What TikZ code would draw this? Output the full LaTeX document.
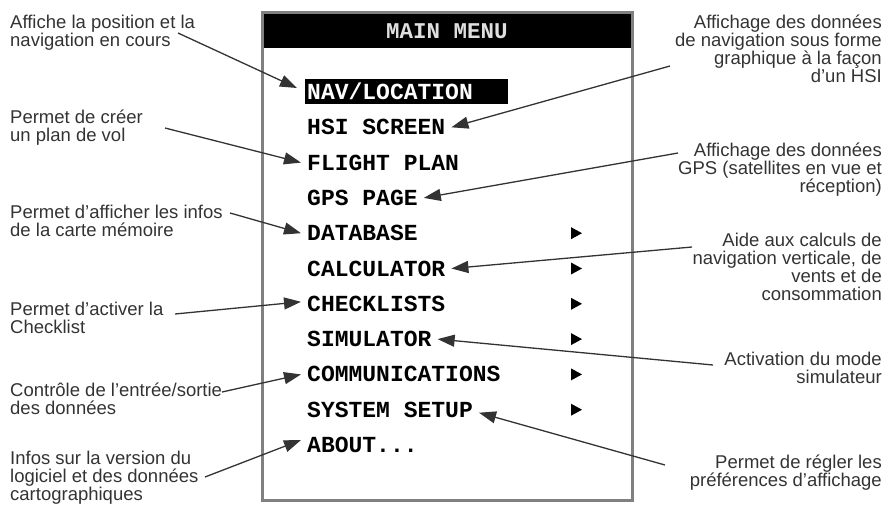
\documentclass[tikz,border=0pt]{standalone}
\usepackage{fontspec}
\setmainfont{Liberation Sans}
\newfontfamily\lcdfont{Liberation Mono}
\usetikzlibrary{arrows.meta}

\definecolor{ink}{HTML}{333333}
\definecolor{framegray}{HTML}{808080}

\tikzset{
  note/.style={inner sep=0pt, text=ink, font=\fontsize{18.5}{17.8}\selectfont},
  leftnote/.style={note, anchor=north west, align=left},
  rightnote/.style={note, anchor=north east, align=right},
  item/.style={anchor=west, inner xsep=6pt, inner ysep=0pt, text height=15pt, text depth=0pt,
    font=\lcdfont\bfseries\fontsize{23}{23}\selectfont},
  pointer/.style={draw=ink, line width=1.3pt, -{Triangle[length=17pt,width=12pt]}},
}

\begin{document}
\begin{tikzpicture}[x=1pt,y=-1pt]
\useasboundingbox (0,0) rectangle (888,504);

% Menu frame
\draw[framegray, line width=3pt] (262,12) rectangle (632,500);

% Title bar
\node[fill=black, text=gray!25, minimum width=367pt, minimum height=34pt, inner sep=0pt,
  font=\lcdfont\bfseries\fontsize{22.5}{22.5}\selectfont] (title) at (447,31) {MAIN MENU};

% Menu items
\node[item, fill=black, text=white, inner xsep=2pt, text width=199pt, minimum height=25pt]
  (nav) at (305,91.5) {NAV/LOCATION};
\node[item] (hsi) at (301,127.3) {HSI SCREEN};
\node[item] (flight) at (301,162.6) {FLIGHT PLAN};
\node[item] (gps) at (301,197.9) {GPS PAGE};
\node[item] (db) at (301,233.2) {DATABASE};
\node[item] (calc) at (301,268.5) {CALCULATOR};
\node[item] (check) at (301,303.8) {CHECKLISTS};
\node[item] (sim) at (301,339.1) {SIMULATOR};
\node[item] (comm) at (301,374.4) {COMMUNICATIONS};
\node[item] (setup) at (301,409.7) {SYSTEM SETUP};
\node[item] (about) at (301,445) {ABOUT...};

% Submenu marks
\coordinate (marks) at (571,0);
\foreach \n in {db,calc,check,sim,comm,setup}
  \fill[black] (marks |- \n.center) ++(0,-6) -- ++(11,6) -- ++(-11,6) -- cycle;

% Left notes
\node[leftnote] (posnote) at (10,15) {Affiche la position et la\\navigation en cours};
\node[leftnote] (plannote) at (10,110) {Permet de créer\\un plan de vol};
\node[leftnote] (cardnote) at (10,205) {Permet d'afficher les infos\\de la carte mémoire};
\node[leftnote] (checknote) at (10,302) {Permet d'activer la\\Checklist};
\node[leftnote] (ionote) at (10,383) {Contrôle de l'entrée/sortie\\des données};
\node[leftnote] (aboutnote) at (10,451) {Infos sur la version du\\logiciel et des données\\cartographiques};

% Right notes
\node[rightnote] (hsinote) at (882,15) {Affichage des données\\de navigation sous forme\\graphique à la façon\\d'un HSI};
\node[rightnote] (gpsnote) at (882,143) {Affichage des données\\GPS (satellites en vue et\\réception)};
\node[rightnote] (calcnote) at (882,233) {Aide aux calculs de\\navigation verticale, de\\vents et de\\consommation};
\node[rightnote] (simnote) at (882,352) {Activation du mode\\simulateur};
\node[rightnote] (setupnote) at (882,455) {Permet de régler les\\préférences d'affichage};

% Pointer origins
\coordinate (posfrom) at (178,33);
\coordinate (planfrom) at (165,128);
\coordinate (cardfrom) at (230,213);
\coordinate (checkfrom) at (175,314);
\coordinate (iofrom) at (222,392);
\coordinate (aboutfrom) at (205,477);
\coordinate (hsifrom) at (670,66);
\coordinate (gpsfrom) at (678,153);
\coordinate (calcfrom) at (692,247);
\coordinate (simfrom) at (713,365);
\coordinate (setupfrom) at (665,465);

% Pointers
\draw[pointer] (posfrom) -- ([xshift=-8pt,yshift=3.5pt]nav.west);
\draw[pointer] (planfrom) -- (flight.west);
\draw[pointer] (cardfrom) -- (db.west);
\draw[pointer] (checkfrom) -- ([yshift=2pt]check.west);
\draw[pointer] (iofrom) -- (comm.west);
\draw[pointer] (aboutfrom) -- ([yshift=5pt]about.west);
\draw[pointer] (hsifrom) -- (hsi.east);
\draw[pointer] (gpsfrom) -- (gps.east);
\draw[pointer] (calcfrom) -- (calc.east);
\draw[pointer] (simfrom) -- (sim.east);
\draw[pointer] (setupfrom) -- ([yshift=-3pt]setup.east);

\end{tikzpicture}
\end{document}
